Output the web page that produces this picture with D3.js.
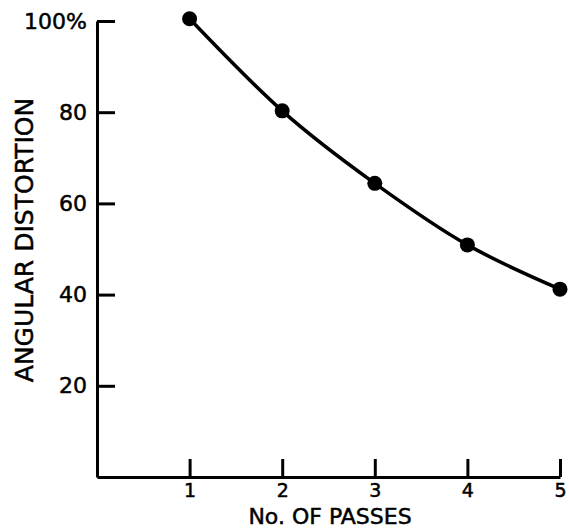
<!DOCTYPE html>
<html>
<head>
<meta charset="utf-8">
<script src="https://cdn.jsdelivr.net/npm/d3@7"></script>
<style>
  body { margin: 0; background: #fff; }
  text { font-family: "DejaVu Sans", sans-serif; fill: #000; stroke: #000; stroke-width: 0.5px; }
</style>
</head>
<body>
<div id="chart"></div>
<script>
var passes = [1, 2, 3, 4, 5];
var distortion = [100.5, 80.3, 64.4, 50.9, 41.2];
var yTicks = [20, 40, 60, 80, 100];
var xLabel = 'No. OF PASSES';
var yLabel = 'ANGULAR DISTORTION';

var width = 569,
    height = 531;

var svg = d3.select('#chart')
  .append('svg')
    .attr('width', width)
    .attr('height', height);

// scales
var x = d3.scaleLinear().domain([0, 5]).range([97, 560]);
var y = d3.scaleLinear().domain([0, 100]).range([477, 21]);

// y axis, ticks point inward
var yAxis = svg.append('g')
  .attr('transform', 'translate(' + x(0) + ',0)')
  .call(d3.axisLeft(y)
    .tickValues(yTicks)
    .tickSizeInner(-18)
    .tickSizeOuter(0)
    .tickPadding(10)
    .tickFormat(function(d) { return d === 100 ? '100%' : d; }));

// x axis, ticks point up
var xAxis = svg.append('g')
  .attr('transform', 'translate(0,' + y(0) + ')')
  .call(d3.axisBottom(x)
    .tickValues(passes)
    .tickSizeInner(-18)
    .tickSizeOuter(0)
    .tickPadding(7)
    .tickFormat(d3.format('d')));

svg.selectAll('.domain, .tick line')
  .attr('stroke', '#000')
  .attr('stroke-width', 3);

yAxis.selectAll('text').style('font-size', '22px');
xAxis.selectAll('text').style('font-size', '19px');

// axis titles
svg.append('text')
  .attr('x', 330)
  .attr('y', 524)
  .style('text-anchor', 'middle')
  .style('font-size', '22px')
  .text(xLabel);

svg.append('text')
  .attr('transform', 'translate(33,240)rotate(-90)')
  .style('text-anchor', 'middle')
  .style('font-size', '25px')
  .text(yLabel);

// curve
var data = passes.map(function(p, i) { return { p: p, v: distortion[i] }; });

var line = d3.line()
  .x(function(d) { return x(d.p); })
  .y(function(d) { return y(d.v); })
  .curve(d3.curveNatural);

svg.append('path')
  .datum(data)
  .attr('fill', 'none')
  .attr('stroke', '#000')
  .attr('stroke-width', 3.5)
  .attr('d', line);

svg.selectAll('.dot')
  .data(data)
  .enter().append('circle')
    .attr('class', 'dot')
    .attr('cx', function(d) { return x(d.p); })
    .attr('cy', function(d) { return y(d.v); })
    .attr('r', 7.5)
    .attr('fill', '#000');
</script>
</body>
</html>
